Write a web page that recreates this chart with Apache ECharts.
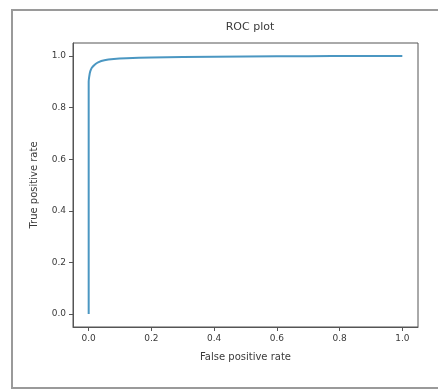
<!DOCTYPE html>
<html>
<head>
<meta charset="utf-8">
<script src="https://cdn.jsdelivr.net/npm/echarts@6/dist/echarts.min.js"></script>
<style>
  html, body { margin: 0; padding: 0; background: #fff; }
  #chart { width: 438px; height: 390px; }
</style>
</head>
<body>
<div id="chart"></div>
<script>
// ROC curve points
const fpr = [0, 0, 0.002, 0.005, 0.01, 0.02, 0.03, 0.05, 0.08, 0.12, 0.2, 0.3, 0.5, 0.7, 0.85, 1.0]
const tpr = [0, 0.9, 0.922, 0.94, 0.954, 0.967, 0.975, 0.983, 0.988, 0.991, 0.994, 0.996, 0.998, 0.999, 1.0, 1.0]
const tickValues = [0, 0.2, 0.4, 0.6, 0.8, 1.0]

const chart = echarts.init(document.getElementById('chart'))

const textColor = '#3a3a3a'
const axisColor = '#555'
const font = 'DejaVu Sans'

function axisCommon(name, gap) {
  return {
    type: 'value',
    min: -0.05,
    max: 1.05,
    name: name,
    nameLocation: 'middle',
    nameGap: gap,
    nameTextStyle: { color: textColor, fontSize: 10, fontFamily: font },
    axisLine: { show: true, onZero: false, lineStyle: { color: axisColor, width: 1 } },
    axisTick: {
      show: true,
      length: 4,
      customValues: tickValues,
      lineStyle: { color: axisColor }
    },
    axisLabel: {
      color: textColor,
      fontSize: 9,
      fontFamily: font,
      margin: 7,
      customValues: tickValues,
      formatter: (v) => v.toFixed(1)
    },
    splitLine: { show: false }
  }
}

const option = {
  backgroundColor: '#fff',
  animation: false,
  title: {
    text: 'ROC plot',
    left: 245,
    top: 17,
    textAlign: 'center',
    textStyle: { color: textColor, fontSize: 11, fontWeight: 'normal', fontFamily: font }
  },
  graphic: [
    {
      type: 'rect',
      shape: { x: 12, y: 10, width: 440, height: 378 },
      style: { fill: 'none', stroke: '#9a9a9a', lineWidth: 2 },
      silent: true
    }
  ],
  grid: {
    left: 73,
    top: 43,
    right: 20,
    bottom: 63,
    show: true,
    borderColor: axisColor,
    borderWidth: 1,
    backgroundColor: 'transparent'
  },
  xAxis: axisCommon('False positive rate', 25),
  yAxis: axisCommon('True positive rate', 34),
  series: [
    {
      type: 'line',
      data: fpr.map((x, i) => [x, tpr[i]]),
      showSymbol: false,
      smooth: 0.3,
      lineStyle: { color: '#4b97c2', width: 2 },
      itemStyle: { color: '#4b97c2' }
    }
  ]
}

chart.setOption(option)
</script>
</body>
</html>
